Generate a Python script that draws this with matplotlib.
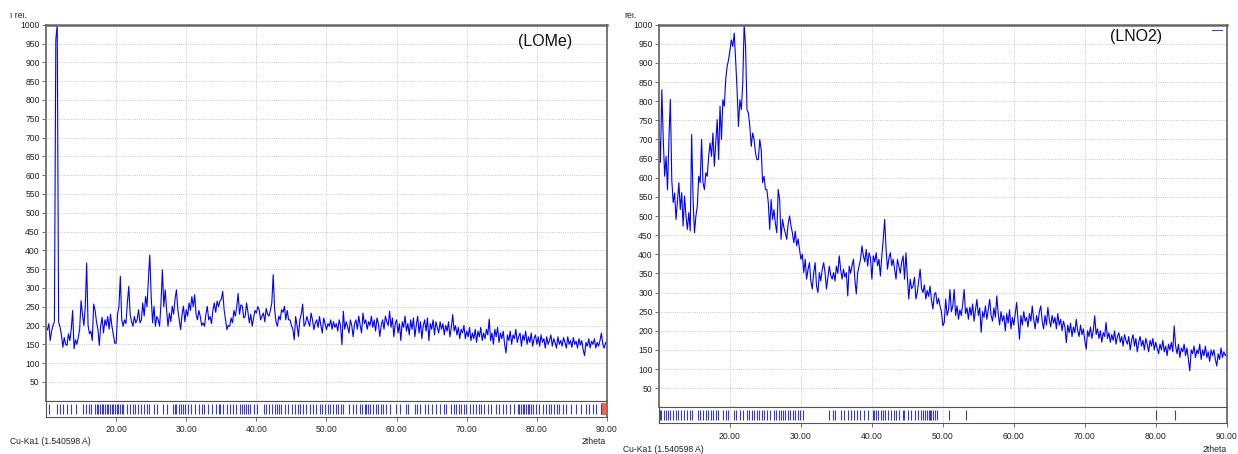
import matplotlib
matplotlib.use("Agg")
import matplotlib.pyplot as plt
import numpy as np
from matplotlib.patches import Rectangle

plt.rcParams['font.family'] = ['Liberation Sans', 'DejaVu Sans']

# 2theta sampling grid (0.2 deg step), 10..90
step = 0.2
two_theta = np.round(np.arange(10.0, 90.0 + step / 2, step), 2)

# (LOMe) counts
lome_counts = [
    195, 188, 205, 160, 185, 200, 210, 960, 1000, 210,
    196, 175, 142, 168, 150, 147, 178, 160, 190, 240,
    138, 162, 150, 168, 190, 266, 230, 200, 250, 366,
    200, 178, 185, 160, 257, 240, 210, 190, 147, 200,
    222, 180, 215, 200, 224, 190, 230, 198, 175, 153,
    153, 230, 250, 331, 215, 198, 215, 205, 260, 304,
    230, 210, 198, 224, 207, 215, 242, 207, 215, 260,
    225, 277, 250, 322, 388, 277, 207, 251, 198, 224,
    215, 198, 260, 348, 250, 295, 240, 198, 233, 210,
    251, 230, 270, 295, 242, 215, 189, 230, 251, 210,
    242, 225, 260, 240, 277, 250, 282, 230, 215, 240,
    224, 200, 207, 198, 230, 251, 215, 224, 205, 240,
    260, 235, 265, 250, 265, 270, 291, 242, 215, 189,
    200, 198, 220, 207, 240, 225, 250, 285, 230, 255,
    251, 220, 224, 260, 235, 207, 230, 198, 220, 240,
    233, 250, 242, 215, 225, 233, 210, 245, 230, 225,
    240, 260, 335, 242, 210, 198, 225, 215, 242, 235,
    251, 215, 240, 215, 215, 200, 190, 162, 224, 200,
    171, 215, 230, 257, 198, 205, 224, 210, 198, 233,
    215, 189, 207, 215, 195, 224, 200, 180, 220, 205,
    189, 205, 198, 215, 190, 210, 195, 205, 185, 215,
    200, 149, 238, 190, 210, 198, 180, 215, 200, 170,
    205, 215, 190, 225, 200, 180, 233, 205, 215, 190,
    210, 200, 225, 195, 215, 185, 220, 205, 171, 200,
    215, 190, 225, 210, 200, 238, 195, 220, 170, 205,
    215, 180, 205, 160, 210, 195, 225, 185, 205, 175,
    215, 190, 220, 170, 200, 225, 180, 210, 165, 200,
    215, 185, 220, 160, 205, 190, 215, 175, 210, 195,
    180, 210, 190, 205, 175, 200, 185, 210, 170, 195,
    229, 185, 200, 175, 195, 165, 190, 180, 200, 165,
    185, 170, 195, 160, 180, 165, 190, 155, 185, 170,
    195, 160, 180, 165, 190, 175, 217, 160, 180, 150,
    190, 170, 195, 155, 180, 165, 185, 150, 127, 175,
    160, 185, 150, 175, 165, 190, 155, 170, 180, 145,
    175, 160, 185, 150, 170, 155, 180, 145, 165, 175,
    150, 170, 145, 175, 155, 165, 140, 170, 150, 160,
    175, 145, 165, 155, 140, 170, 150, 160, 145, 168,
    155, 140, 170, 150, 160, 142, 168, 150, 158, 140,
    165, 148, 160, 135, 120, 155, 145, 165, 140, 158,
    150, 165, 140, 155, 145, 160, 180, 150, 140, 155,
    148,
]

# (LNO2) counts
lno2_counts = [
    740, 640, 830, 700, 604, 656, 569, 700, 805, 595,
    535, 560, 491, 540, 587, 517, 561, 474, 552, 500,
    465, 509, 461, 713, 543, 456, 500, 526, 604, 587,
    700, 587, 569, 613, 604, 656, 691, 656, 717, 630,
    690, 752, 648, 787, 700, 804, 787, 856, 891, 908,
    934, 960, 943, 978, 908, 830, 734, 804, 778, 847,
    1000, 943, 778, 769, 734, 682, 717, 700, 665, 647,
    648, 700, 674, 587, 604, 569, 569, 535, 465, 543,
    491, 517, 480, 456, 569, 543, 439, 491, 470, 456,
    439, 480, 500, 474, 456, 430, 460, 422, 440, 413,
    387, 400, 352, 387, 335, 360, 378, 330, 309, 352,
    378, 317, 300, 352, 330, 360, 378, 352, 309, 340,
    369, 345, 335, 352, 330, 369, 350, 396, 360, 335,
    361, 340, 352, 291, 369, 350, 370, 387, 335, 296,
    352, 370, 387, 422, 396, 380, 413, 369, 404, 390,
    335, 396, 380, 404, 370, 387, 343, 396, 439, 491,
    413, 361, 390, 404, 370, 387, 360, 335, 387, 369,
    350, 380, 396, 335, 404, 340, 283, 335, 310, 317,
    340, 283, 300, 330, 361, 310, 300, 320, 283, 305,
    290, 317, 280, 257, 295, 300, 270, 285, 265, 250,
    213, 222, 283, 240, 255, 308, 250, 265, 308, 240,
    265, 230, 255, 240, 270, 308, 245, 260, 230, 262,
    240, 270, 225, 255, 282, 240, 260, 196, 250, 235,
    265, 230, 255, 282, 240, 225, 260, 235, 291, 245,
    215, 250, 225, 240, 200, 245, 220, 255, 205, 235,
    215, 245, 274, 225, 178, 240, 215, 250, 225, 235,
    210, 245, 225, 265, 230, 205, 240, 220, 250, 265,
    225, 205, 240, 215, 261, 230, 210, 240, 220, 235,
    205, 245, 215, 230, 200, 225, 210, 169, 215, 195,
    220, 185, 210, 195, 230, 200, 185, 215, 190, 205,
    175, 152, 200, 185, 210, 180, 200, 239, 190, 205,
    180, 200, 170, 195, 185, 222, 180, 195, 170, 190,
    175, 200, 165, 185, 195, 170, 185, 160, 190, 175,
    165, 185, 150, 175, 190, 160, 180, 145, 170, 185,
    160, 175, 150, 180, 165, 145, 175, 160, 180, 150,
    170, 155, 140, 165, 150, 175, 145, 160, 135, 165,
    150, 170, 145, 213, 160, 140, 165, 130, 155, 145,
    165, 135, 155, 125, 95, 150, 140, 160, 130, 150,
    140, 165, 125, 150, 135, 160, 130, 145, 120, 150,
    135, 150, 125, 108, 140, 125, 155, 130, 145, 135,
    140,
]

# reference line positions (2theta) shown in the strips
lome_refs = [
    10.47, 11.52, 12.0, 12.47, 12.94, 13.5, 14.27, 15.32, 15.7, 16.08, 16.46,
    16.98, 17.22, 17.45, 17.69, 17.93, 18.17, 18.4, 18.64, 18.88, 19.12, 19.35,
    19.59, 19.83, 20.07, 20.3, 20.54, 20.78, 21.02, 21.6, 21.97, 22.35, 22.73,
    23.1, 23.5, 23.96, 24.34, 24.72, 25.38, 25.76, 26.7, 27.19, 28.04, 28.33,
    28.6, 28.9, 29.2, 29.47, 29.85, 30.23, 30.7, 31.18, 31.75, 32.22, 32.6,
    33.17, 33.65, 34.31, 34.6, 34.88, 35.17, 35.74, 36.2, 36.7, 37.07, 37.73,
    38.0, 38.3, 38.58, 38.87, 39.15, 39.72, 40.1, 41.05, 41.43, 41.8, 42.29,
    42.67, 42.95, 43.24, 43.52, 44.1, 44.57, 45.14, 45.52, 45.9, 46.18, 46.66,
    47.13, 47.6, 48.08, 48.56, 49.03, 49.41, 49.79, 50.22, 50.55, 50.93, 51.31,
    51.64, 52.12, 52.35, 53.21, 53.78, 54.25, 54.73, 55.11, 55.44, 55.68, 55.96,
    56.25, 56.63, 57.01, 57.39, 57.77, 58.05, 58.43, 59.0, 59.95, 60.43, 61.37,
    61.61, 62.56, 62.9, 63.27, 63.99, 64.46, 65.08, 65.65, 66.12, 66.69, 67.07,
    67.78, 68.12, 68.5, 68.88, 69.21, 69.54, 69.92, 70.4, 70.87, 71.35, 71.73,
    72.06, 72.53, 73.0, 73.48, 74.2, 74.67, 75.14, 75.62, 76.1, 76.8, 77.28,
    77.52, 77.76, 78.0, 78.23, 78.47, 78.7, 78.94, 79.18, 79.42, 79.9, 80.37,
    80.84, 81.32, 81.7, 82.08, 82.46, 82.84, 83.22, 83.69, 84.17, 84.88, 85.59,
    86.3, 87.02, 87.5, 87.97, 88.44, 89.16,
]
lno2_refs = [
    10.1, 10.31, 10.64, 10.92, 11.25, 11.59, 11.96, 12.34, 12.67, 13.15, 13.48,
    13.95, 14.33, 14.71, 15.51, 15.84, 16.22, 16.6, 16.93, 17.26, 17.64, 18.02,
    18.35, 19.06, 19.43, 19.77, 20.57, 20.85, 21.42, 21.89, 22.37, 22.74, 23.07,
    23.41, 23.78, 24.16, 24.49, 24.82, 25.2, 25.67, 26.15, 26.53, 26.86, 27.19,
    27.47, 27.8, 28.13, 28.51, 28.89, 29.22, 29.55, 29.93, 30.31, 33.95, 34.56,
    34.75, 35.6, 36.08, 36.64, 37.12, 37.5, 37.97, 38.35, 38.91, 39.39, 40.1,
    40.33, 40.57, 40.81, 41.28, 41.51, 41.85, 42.22, 42.7, 43.07, 43.41, 43.88,
    44.35, 44.59, 45.06, 45.53, 46.01, 46.48, 46.87, 47.16, 47.44, 47.72, 48.0,
    48.19, 48.38, 48.56, 48.85, 49.13, 50.91, 53.26, 80.03, 82.76,
]

y_ticks = np.arange(50, 1001, 50)
x_ticks = np.arange(20, 91, 10)

W, H = 1238, 454
fig = plt.figure(figsize=(W / 100, H / 100), dpi=100)


def px_box(x0, y0, x1, y1):
    # pixel box (top-left origin) -> figure rect
    return [x0 / W, 1 - y1 / H, (x1 - x0) / W, (y1 - y0) / H]


def panel(main_box, strip_box, counts, refs, name, name_pos):
    ax = fig.add_axes(px_box(*main_box))
    ax.plot(two_theta, counts, color='#0000ff', lw=0.8)
    ax.set_xlim(10, 90)
    ax.set_ylim(0, 1000)
    ax.set_yticks(y_ticks)
    ax.set_yticklabels([str(v) for v in y_ticks])
    ax.set_xticks(x_ticks)
    ax.set_xticklabels([])
    ax.tick_params(axis='x', length=0)
    ax.tick_params(axis='y', length=3, width=0.6, color='#555555',
                   labelsize=6.2, labelcolor='#222222', pad=1.5)
    ax.grid(True, color='#b8b8b8', lw=0.6, ls=':')
    for side in ['left', 'right']:
        ax.spines[side].set_color('#777777')
        ax.spines[side].set_linewidth(1.4)
    ax.spines['top'].set_color('#666666')
    ax.spines['top'].set_linewidth(1.8)
    ax.spines['bottom'].set_color('#444444')
    ax.spines['bottom'].set_linewidth(0.8)
    ax.text(name_pos[0], name_pos[1], name, transform=ax.transAxes,
            fontsize=11.5, va='center', ha='left', color='#111111')

    sx = fig.add_axes(px_box(*strip_box))
    sx.vlines(refs, 0.18, 0.82, color='#3a3acc', lw=0.8)
    sx.set_xlim(10, 90)
    sx.set_ylim(0, 1)
    sx.set_yticks([])
    sx.set_xticks(x_ticks)
    sx.set_xticklabels(['%.2f' % v for v in x_ticks])
    sx.tick_params(axis='x', length=3, width=0.6, color='#555555',
                   labelsize=6.2, labelcolor='#222222', pad=3)
    sx.grid(True, axis='x', color='#b8b8b8', lw=0.6, ls=':')
    for side in sx.spines.values():
        side.set_color('#555555')
        side.set_linewidth(0.8)
    sx.spines['right'].set_color('#777777')
    sx.spines['right'].set_linewidth(1.4)
    return ax, sx


ax1, sx1 = panel((46, 24.7, 607, 400.7), (46, 400.7, 607, 417),
                 lome_counts, lome_refs, '(LOMe)', (0.841, 0.954))
sx1.axvspan(89.2, 90, ymin=0.12, ymax=0.88, color='#ff6040', lw=0)

ax2, sx2 = panel((659, 24.7, 1226.7, 407.3), (659, 407.3, 1226.7, 423.3),
                 lno2_counts, lno2_refs, '(LNO2)', (0.794, 0.968))
ax2.plot([0.974, 0.992], [0.986, 0.986], transform=ax2.transAxes,
         color='#4444ff', lw=0.8)

# footer / header labels
txt = dict(fontsize=6.2, color='#222222')
fig.text(10 / W, 1 - 441 / H, 'Cu-Ka1 (1.540598 A)', va='center', ha='left', **txt)
fig.text(606 / W, 1 - 441 / H, '2theta', va='center', ha='right', **txt)
fig.text(623 / W, 1 - 449 / H, 'Cu-Ka1 (1.540598 A)', va='center', ha='left', **txt)
fig.text(1227 / W, 1 - 449 / H, '2theta', va='center', ha='right', **txt)
fig.text(10 / W, 1 - 15 / H, 'I rel.', va='center', ha='left', zorder=1, **txt)
fig.text(624 / W, 1 - 15 / H, 'rel.', va='center', ha='left', zorder=1, **txt)
# the source images were cropped just above the header label
fig.patches.append(Rectangle((0, 1 - 12.5 / H), 1, 12.5 / H, transform=fig.transFigure,
                             facecolor='white', edgecolor='none', zorder=5))

fig.savefig('out.png', dpi=100)
